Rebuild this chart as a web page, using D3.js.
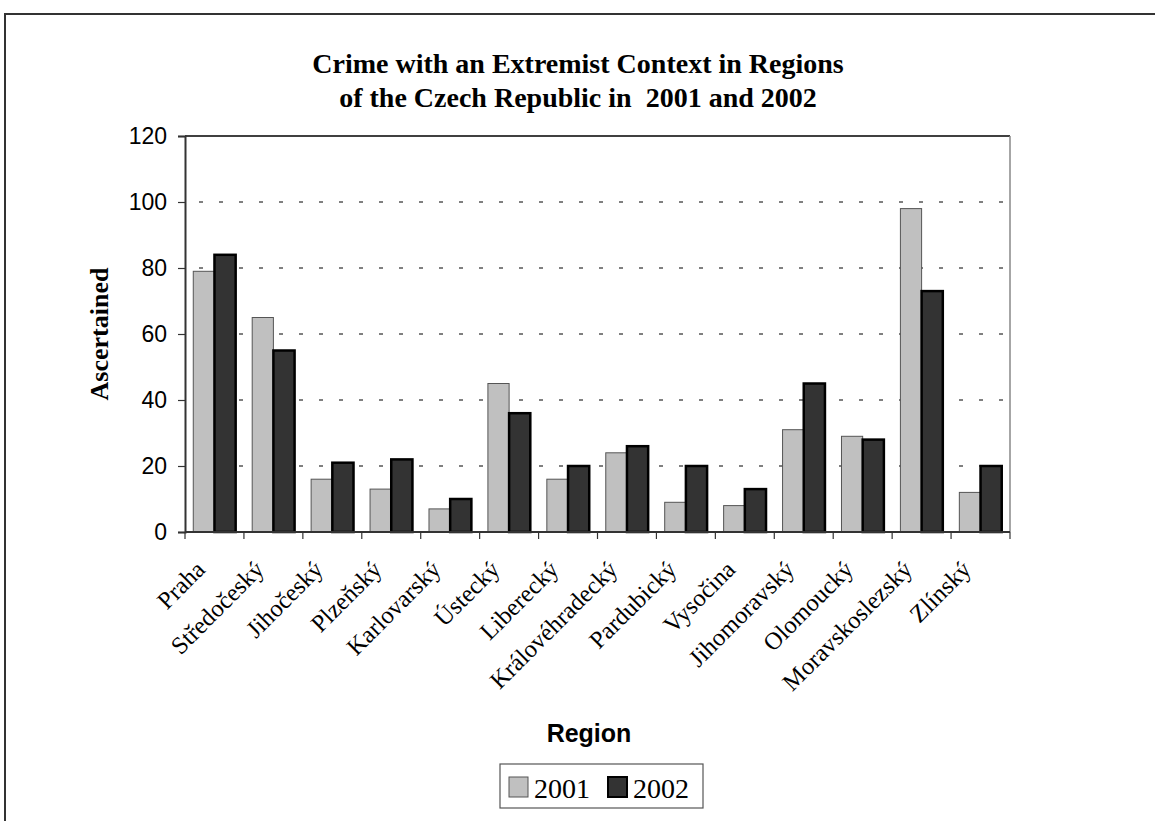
<!DOCTYPE html>
<html>
<head>
<meta charset="utf-8">
<script src="https://cdn.jsdelivr.net/npm/d3@7"></script>
<style>
  body { margin: 0; background: #fff; }
  svg { display: block; }
</style>
</head>
<body>
<svg id="chart" width="1155" height="821"></svg>
<script>
// data
const regions = ["Praha", "Středočeský", "Jihočeský", "Plzeňský", "Karlovarský", "Ústecký",
    "Liberecký", "Královéhradecký", "Pardubický", "Vysočina", "Jihomoravský", "Olomoucký",
    "Moravskoslezský", "Zlínský"];
const years = ["2001", "2002"];
const values2001 = [79, 65, 16, 13, 7, 45, 16, 24, 9, 8, 31, 29, 98, 12];
const values2002 = [84, 55, 21, 22, 10, 36, 20, 26, 20, 13, 45, 28, 73, 20];
const yTicks = [0, 20, 40, 60, 80, 100, 120];

const titleLines = ["Crime with an Extremist Context in Regions", "of the Czech Republic in  2001 and 2002"];

const rows = regions.map((r, i) => ({ region: r, "2001": values2001[i], "2002": values2002[i] }));

const svg = d3.select("#chart");
const serif = "'Liberation Serif', 'Times New Roman', serif";
const sans = "'Liberation Sans', Arial, sans-serif";

// outer frame (only left and top visible in the picture)
svg.append("path")
    .attr("d", "M5,821 V14 H1155")
    .attr("fill", "none")
    .attr("stroke", "#333")
    .attr("stroke-width", 2);

const plot = { left: 185, right: 1010, top: 136, bottom: 532 };

const x = d3.scaleBand()
    .domain(regions)
    .range([plot.left, plot.right])
    .paddingInner(0)
    .paddingOuter(0);

const xSub = d3.scaleBand()
    .domain(years)
    .range([0, x.bandwidth()])
    .paddingInner(0)
    .paddingOuter(0.39);

const y = d3.scaleLinear()
    .domain([0, 120])
    .range([plot.bottom, plot.top]);

// gridlines
svg.append("g")
    .selectAll("line")
    .data(yTicks.filter(t => t > 0 && t < 120))
    .enter().append("line")
    .attr("x1", plot.left)
    .attr("x2", plot.right)
    .attr("y1", d => y(d))
    .attr("y2", d => y(d))
    .attr("stroke", "#000")
    .attr("stroke-width", 1)
    .attr("stroke-dasharray", "4,16")
    .attr("stroke-dashoffset", -14);

// plot area border top + right
svg.append("line")
    .attr("x1", plot.left).attr("x2", plot.right)
    .attr("y1", y(120)).attr("y2", y(120))
    .attr("stroke", "#000").attr("stroke-width", 1.5);
svg.append("line")
    .attr("x1", plot.right).attr("x2", plot.right)
    .attr("y1", y(120)).attr("y2", y(0))
    .attr("stroke", "#888").attr("stroke-width", 1.5);

// bars
const fills = { "2001": "#c0c0c0", "2002": "#333333" };
const strokes = { "2001": "#555", "2002": "#000" };
const strokeW = { "2001": 1, "2002": 2.5 };

const groups = svg.append("g")
    .selectAll("g")
    .data(rows)
    .enter().append("g")
    .attr("transform", d => `translate(${x(d.region)},0)`);

groups.selectAll("rect")
    .data(d => years.map(k => ({ key: k, value: d[k] })))
    .enter().append("rect")
    .attr("x", d => xSub(d.key))
    .attr("y", d => y(d.value))
    .attr("width", xSub.bandwidth())
    .attr("height", d => y(0) - y(d.value))
    .attr("fill", d => fills[d.key])
    .attr("stroke", d => strokes[d.key])
    .attr("stroke-width", d => strokeW[d.key]);

// y axis
const yAxis = svg.append("g")
    .attr("transform", `translate(${plot.left},0)`)
    .call(d3.axisLeft(y).tickValues(yTicks).tickSize(7).tickPadding(11));
yAxis.select(".domain").attr("stroke", "#333").attr("stroke-width", 2);
yAxis.selectAll(".tick line").attr("stroke", "#333").attr("stroke-width", 1.2);
yAxis.selectAll(".tick text")
    .attr("font-family", sans)
    .attr("font-size", 23)
    .attr("fill", "#000");

// x axis baseline and ticks at category boundaries
const xAxis = svg.append("g")
    .attr("transform", `translate(0,${plot.bottom})`);
xAxis.append("line")
    .attr("x1", plot.left).attr("x2", plot.right)
    .attr("stroke", "#333").attr("stroke-width", 2);
xAxis.selectAll(".xtick")
    .data(regions.concat([null]))
    .enter().append("line")
    .attr("class", "xtick")
    .attr("x1", (d, i) => plot.left + i * x.step())
    .attr("x2", (d, i) => plot.left + i * x.step())
    .attr("y1", 0).attr("y2", 7)
    .attr("stroke", "#333").attr("stroke-width", 1.2);

// rotated region labels
svg.append("g")
    .selectAll("text")
    .data(regions)
    .enter().append("text")
    .attr("transform", d => `translate(${x(d) + x.bandwidth() / 2 - 8},${plot.bottom + 39}) rotate(-45)`)
    .attr("text-anchor", "end")
    .attr("font-family", serif)
    .attr("font-size", 24.5)
    .attr("fill", "#000")
    .text(d => d);

// title
svg.append("text")
    .attr("x", 578)
    .attr("text-anchor", "middle")
    .attr("font-family", serif)
    .attr("font-weight", "bold")
    .attr("font-size", 28)
    .style("white-space", "pre")
    .selectAll("tspan")
    .data(titleLines)
    .enter().append("tspan")
    .attr("x", 578)
    .attr("y", (d, i) => 73 + i * 34)
    .text(d => d);

// y axis title
svg.append("text")
    .attr("transform", "translate(108,334) rotate(-90)")
    .attr("text-anchor", "middle")
    .attr("font-family", serif)
    .attr("font-weight", "bold")
    .attr("font-size", 26)
    .text("Ascertained");

// x axis title
svg.append("text")
    .attr("x", 589)
    .attr("y", 742)
    .attr("text-anchor", "middle")
    .attr("font-family", sans)
    .attr("font-weight", "bold")
    .attr("font-size", 25)
    .text("Region");

// legend
const legend = svg.append("g").attr("transform", "translate(500,764)");
legend.append("rect")
    .attr("width", 203).attr("height", 44)
    .attr("fill", "#fff").attr("stroke", "#555").attr("stroke-width", 1.2);
const legendX = { "2001": 9, "2002": 108 };
const items = legend.selectAll(".item")
    .data(years)
    .enter().append("g")
    .attr("class", "item")
    .attr("transform", d => `translate(${legendX[d]},0)`);
items.append("rect")
    .attr("y", 13).attr("width", 19).attr("height", 20)
    .attr("fill", d => fills[d])
    .attr("stroke", d => strokes[d])
    .attr("stroke-width", d => d === "2002" ? 2 : 1);
items.append("text")
    .attr("x", 25).attr("y", 34)
    .attr("font-family", serif)
    .attr("font-size", 28)
    .text(d => d);
</script>
</body>
</html>
